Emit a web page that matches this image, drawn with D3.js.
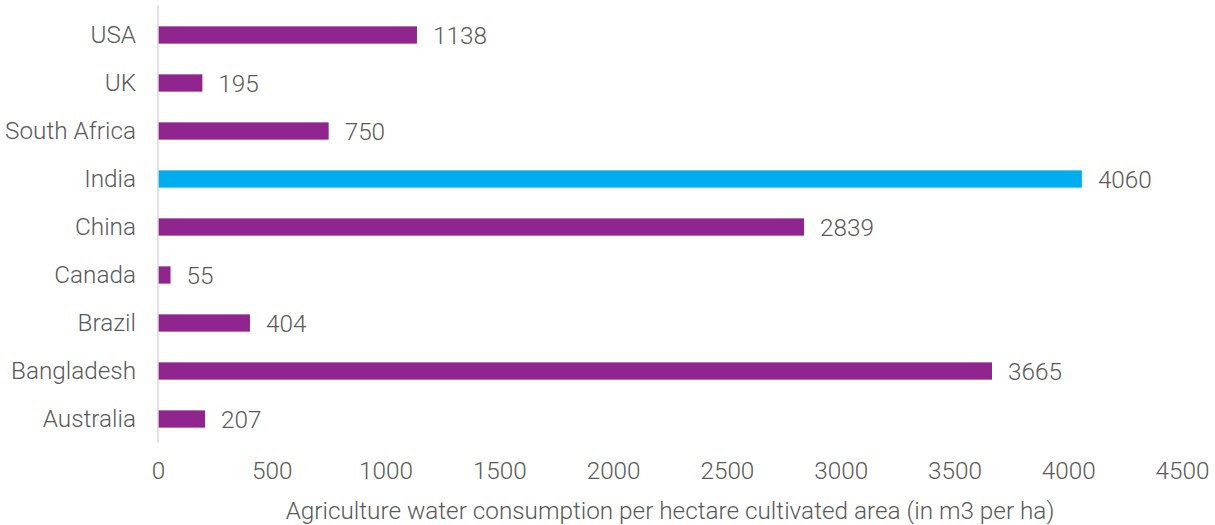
<!DOCTYPE html>
<html>
<head>
<meta charset="utf-8">
<script src="https://cdn.jsdelivr.net/npm/d3@7"></script>
<style>
  html, body { margin: 0; padding: 0; background: #fff; }
  svg text { font-family: Roboto, "Liberation Sans", sans-serif; font-weight: 300; fill: #595959; }
</style>
</head>
<body>
<svg id="chart" width="1215" height="525"></svg>
<script>
const countries = ["USA", "UK", "South Africa", "India", "China", "Canada", "Brazil", "Bangladesh", "Australia"];
const waterUse = [1138, 195, 750, 4060, 2839, 55, 404, 3665, 207];
const highlight = ["India"];
const xTicks = [0, 500, 1000, 1500, 2000, 2500, 3000, 3500, 4000, 4500];
const xTitle = "Agriculture water consumption per hectare cultivated area (in m3 per ha)";

const svg = d3.select("#chart");
const x = d3.scaleLinear().domain([0, 4500]).range([158, 1182]);
const y = d3.scaleBand().domain(countries).range([11, 443]).paddingInner(0.64).paddingOuter(0.32);
const fs = 24.3;

const rows = countries.map((c, i) => ({ country: c, value: waterUse[i] }));

// bars
svg.append("g").selectAll("rect").data(rows).join("rect")
  .attr("x", x(0))
  .attr("y", d => y(d.country))
  .attr("width", d => x(d.value) - x(0))
  .attr("height", y.bandwidth())
  .attr("fill", d => highlight.includes(d.country) ? "#00AEEF" : "#8E248C");

// value labels
svg.append("g").selectAll("text").data(rows).join("text")
  .attr("x", d => x(d.value) + 16)
  .attr("y", d => y(d.country) + y.bandwidth() / 2)
  .attr("dy", "0.36em")
  .attr("font-size", fs)
  .text(d => d.value);

// category axis
const yAxis = svg.append("g").attr("transform", `translate(${x(0)},0)`)
  .call(d3.axisLeft(y).tickSize(0).tickPadding(22));
yAxis.select(".domain").attr("stroke", "#d9d9d9").attr("stroke-width", 1.5)
  .attr("d", "M0,5V443");
yAxis.selectAll("text").attr("font-size", fs).attr("fill", "#595959");

// value axis
const xAxis = svg.append("g").attr("transform", "translate(0,470)")
  .call(d3.axisBottom(x).tickValues(xTicks).tickFormat(d3.format("d")).tickSize(0).tickPadding(0));
xAxis.select(".domain").remove();
xAxis.selectAll("text").attr("font-size", fs).attr("dy", "0.36em").attr("fill", "#595959");

svg.append("text")
  .attr("x", 670).attr("y", 510)
  .attr("dy", "0.36em")
  .attr("text-anchor", "middle")
  .attr("font-size", fs)
  .text(xTitle);
</script>
</body>
</html>
